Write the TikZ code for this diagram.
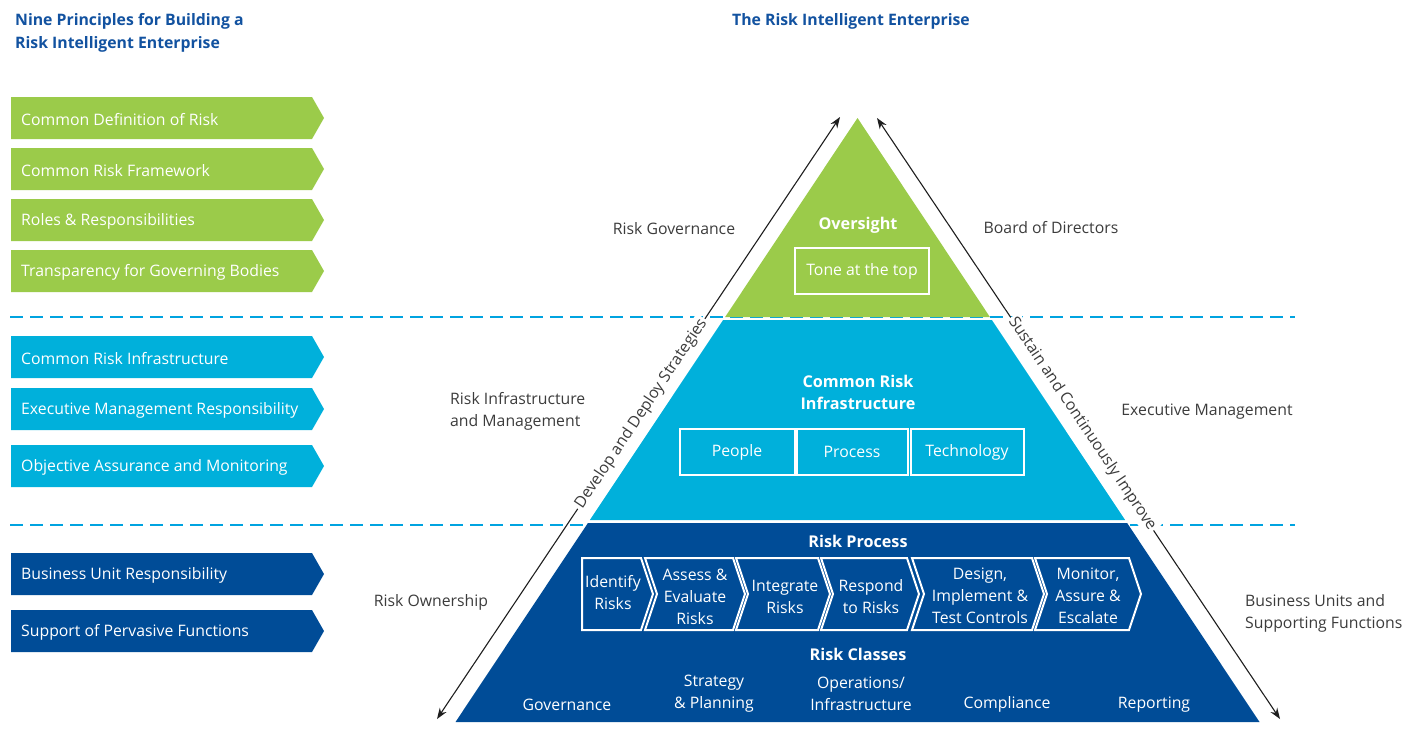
\documentclass[tikz,border=0pt]{standalone}
\usepackage{fontspec}
\setmainfont{Open Sans}
\usetikzlibrary{arrows.meta}
\definecolor{rgreen}{RGB}{155,203,74}
\definecolor{rcyan}{RGB}{0,176,219}
\definecolor{rblue}{RGB}{0,76,151}
\definecolor{rdash}{RGB}{0,163,224}
\definecolor{rtitle}{RGB}{18,82,160}
\definecolor{rgray}{RGB}{60,60,60}
\definecolor{rarrow}{RGB}{30,30,30}
\begin{document}
\begin{tikzpicture}[x=1pt,y=-1pt,
  font=\fontsize{15.8}{22}\selectfont,
  principle/.style={anchor=west,text=white,inner sep=0pt,yshift=-1.5pt},
  lbl/.style={text=rgray,inner sep=0pt,yshift=-1.5pt},
  wt/.style={text=white,align=center,inner sep=0pt,yshift=-1.5pt},
  wtb/.style={text=white,align=center,inner sep=0pt,yshift=-1.5pt,font=\fontsize{16.2}{22}\selectfont\bfseries},
  ttl/.style={text=rtitle,inner sep=0pt,yshift=-1.5pt,font=\fontsize{15.8}{23}\selectfont\bfseries},
  chev/.style={draw=white,line width=2pt,line join=miter},
  whitebox/.style={draw=white,line width=2pt},
  dashline/.style={rdash,line width=2.5pt,dash pattern=on 13pt off 7pt},
  arrowline/.style={rarrow,line width=1.1pt,{Stealth[length=11pt,width=8pt]}-{Stealth[length=11pt,width=8pt]}},
  onarrow/.style={sloped,fill=white,text=rgray,inner sep=2pt}
]
\useasboundingbox (0,0) rectangle (1405,732);

% titles
\node[ttl,anchor=west,align=left] (t1) at (15,31.5) {Nine Principles for Building a\\Risk Intelligent Enterprise};
\node[ttl] (t2) at (851,20) {The Risk Intelligent Enterprise};

% principle boxes
\foreach \yy/\cc/\tt [count=\i] in {
  97/rgreen/Common Definition of Risk,
  148/rgreen/Common Risk Framework,
  199/rgreen/Roles \& Responsibilities,
  250/rgreen/Transparency for Governing Bodies,
  336/rcyan/Common Risk Infrastructure,
  388/rcyan/Executive Management Responsibility,
  445/rcyan/Objective Assurance and Monitoring,
  553/rblue/Business Unit Responsibility,
  610/rblue/Support of Pervasive Functions}{
  \fill[\cc] (11,\yy) -- (312,\yy) -- (324,\yy+21) -- (312,\yy+42) -- (11,\yy+42) -- cycle;
  \node[principle] (p\i) at (21,\yy+21) {\tt};
}

% dashed separators
\coordinate (dl1) at (10,317); \coordinate (dr1) at (1295,317);
\coordinate (dl2) at (10,525); \coordinate (dr2) at (1295,525);
\draw[dashline] (dl1) -- (dr1);
\draw[dashline] (dl2) -- (dr2);

% arrows
\coordinate (a1) at (437,719); \coordinate (a2) at (840,117);
\coordinate (b1) at (877,118); \coordinate (b2) at (1280,719);
\draw[arrowline] (a1) -- node[onarrow,pos=0.507] (dev) {Develop and Deploy Strategies} (a2);
\draw[arrowline] (b1) -- node[onarrow,pos=0.509] (sus) {Sustain and Continuously Improve} (b2);

% pyramid
\fill[rgreen] (857.5,118) -- (989.9,317) -- (725.1,317) -- cycle;
\fill[rcyan] (723.1,320) -- (991.9,320) -- (1125.1,520) -- (589.9,520) -- cycle;
\fill[rblue] (587.9,523) -- (1127.1,523) -- (1259.5,722) -- (455.5,722) -- cycle;

% oversight tier
\node[wtb] (ov) at (858,224) {Oversight};
\node[whitebox,wt,minimum width=134pt,minimum height=46pt] (tone) at (862,269.5) {Tone at the top};

% infrastructure tier
\node[wtb] (cri) at (858,391) {Common Risk\\Infrastructure};
\node[whitebox,wt,minimum width=115pt,minimum height=46pt] (ppl) at (737,450.5) {People};
\node[whitebox,wt,minimum width=111pt,minimum height=46pt] (prc) at (852,450.5) {Process};
\node[whitebox,wt,minimum width=113pt,minimum height=46pt] (tec) at (967,450.5) {Technology};

% risk process tier
\node[wtb] (rp) at (858,540) {Risk Process};
\draw[chev] (582,558) -- (641,558) -- (653,594) -- (641,630) -- (582,630) -- cycle;
\foreach \L/\R in {645/733,736/818,821/907,912/1032,1035/1129}{
  \draw[chev] (\L,558) -- (\R,558) -- (\R+12,594) -- (\R,630) -- (\L,630) -- (\L+12,594) -- cycle;
}
\node[wt] (c1) at (613,591) {Identify\\Risks};
\node[wt] (c2) at (695,595) {Assess \&\\Evaluate\\Risks};
\node[wt] (c3) at (785,595) {Integrate\\Risks};
\node[wt] (c4) at (871,595) {Respond\\to Risks};
\node[wt] (c5) at (980,594) {Design,\\Implement \&\\Test Controls};
\node[wt] (c6) at (1088,594) {Monitor,\\Assure \&\\Escalate};

\node[wtb] (rc) at (858,653) {Risk Classes};
\node[wt] (k1) at (567,703) {Governance};
\node[wt] (k2) at (714,692) {Strategy\\\& Planning};
\node[wt] (k3) at (861,692) {Operations/\\Infrastructure};
\node[wt] (k4) at (1007,703) {Compliance};
\node[wt] (k5) at (1154,703) {Reporting};

% side labels
\node[lbl] (l1) at (674,227) {Risk Governance};
\node[lbl] (l2) at (1051,226) {Board of Directors};
\node[lbl,anchor=west,align=left] (l3) at (450,410) {Risk Infrastructure\\and Management};
\node[lbl] (l4) at (1207,410) {Executive Management};
\node[lbl] (l5) at (431,601) {Risk Ownership};
\node[lbl,anchor=west,align=left] (l6) at (1245,612) {Business Units and\\Supporting Functions};
\end{tikzpicture}
\end{document}
